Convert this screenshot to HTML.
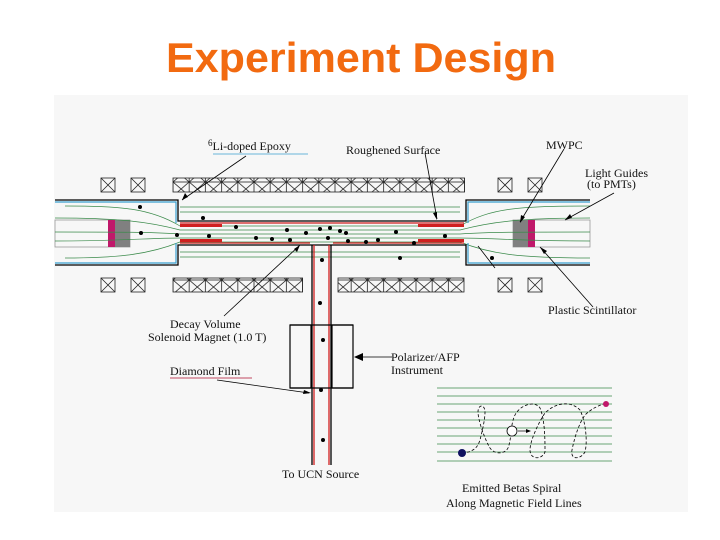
<!DOCTYPE html>
<html><head><meta charset="utf-8"><style>
html,body{margin:0;padding:0;background:#fff;width:720px;height:540px;overflow:hidden}
svg{display:block}
text{font-family:"Liberation Serif",serif;fill:#111}
</style></head><body>
<svg width="720" height="540" viewBox="0 0 720 540" xmlns="http://www.w3.org/2000/svg">
<defs>
<pattern id="xp" x="173" y="0" width="16.2" height="14" patternUnits="userSpaceOnUse">
<rect x="0" y="0" width="16.2" height="14" fill="none" stroke="#222" stroke-width="0.8"/>
<path d="M0 0L16.2 14M16.2 0L0 14" stroke="#222" stroke-width="0.8"/>
</pattern>
</defs>
<text x="166" y="72" textLength="390" lengthAdjust="spacingAndGlyphs" style="font-family:'Liberation Sans',sans-serif;font-weight:bold;font-size:42px;fill:#f26a10">Experiment Design</text>
<rect x="54" y="95" width="634" height="417" fill="#f7f7f7"/>
<!-- coils top -->
<g stroke="#222" stroke-width="0.8" fill="none">
<rect x="101" y="178" width="14" height="14"/><path d="M101 178l14 14M115 178l-14 14"/>
<rect x="131" y="178" width="14" height="14"/><path d="M131 178l14 14M145 178l-14 14"/>
<rect x="498" y="178" width="14" height="14"/><path d="M498 178l14 14M512 178l-14 14"/>
<rect x="528" y="178" width="14" height="14"/><path d="M528 178l14 14M542 178l-14 14"/>
<rect x="101" y="278" width="14" height="14"/><path d="M101 278l14 14M115 278l-14 14"/>
<rect x="131" y="278" width="14" height="14"/><path d="M131 278l14 14M145 278l-14 14"/>
<rect x="498" y="278" width="14" height="14"/><path d="M498 278l14 14M512 278l-14 14"/>
<rect x="528" y="278" width="14" height="14"/><path d="M528 278l14 14M542 278l-14 14"/>
</g>
<rect x="173" y="178" width="291.6" height="14" fill="url(#xp)" stroke="#222" stroke-width="0.8"/>
<rect x="173" y="278" width="129.6" height="14" fill="url(#xp)" stroke="#222" stroke-width="0.8"/>
<rect x="338" y="278" width="126" height="14" fill="url(#xp)" stroke="#222" stroke-width="0.8"/>
<!-- light guides -->
<g fill="none" stroke="#999" stroke-width="0.8">
<rect x="55" y="220" width="75" height="27"/>
<rect x="513" y="220" width="77" height="27"/>
</g>
<rect x="108" y="220" width="7" height="27" fill="#c0186a"/>
<rect x="115" y="220" width="15" height="27" fill="#808080"/>
<rect x="513" y="220" width="15" height="27" fill="#808080"/>
<rect x="528" y="220" width="7" height="27" fill="#c0186a"/>
<!-- field lines -->
<g fill="none" stroke="#3a8a4a" stroke-width="0.7">
<path d="M65 206C120 206 150 208 180 226L460 226C490 208 520 206 590 206"/>
<path d="M55 218C120 218 150 222 180 230L460 230C490 222 520 218 590 218"/>
<path d="M55 232C120 232 150 232 180 234L460 234C490 232 520 232 590 232"/>
<path d="M55 241C120 241 150 238 180 238L460 238C490 238 520 241 590 241"/>
<path d="M65 258C120 258 150 254 180 242L460 242C490 254 520 258 590 258"/>
<path d="M180 207L460 207M180 212L460 212M180 252L460 252M180 257L460 257"/>
</g>
<!-- outer housing -->
<g fill="none" stroke="#000" stroke-width="1.3">
<path d="M55 200H178V221H466V200H590"/>
<path d="M55 265H178V245H466V265H590"/>
</g>
<g fill="none" stroke="#3aa0d0" stroke-width="1.2">
<path d="M55 202H176V223"/><path d="M468 223V202H590"/>
<path d="M55 263H176V243"/><path d="M468 243V263H590"/>
</g>
<g stroke="#d02020" stroke-width="1.2">
<path d="M180 223H464M180 243H310M333 243H464"/>
</g>
<g fill="#d02020">
<rect x="180" y="224" width="42" height="3"/><rect x="418" y="224" width="46" height="3"/>
<rect x="180" y="239" width="42" height="3"/><rect x="418" y="239" width="46" height="3"/>
</g>
<!-- vertical tube -->
<g stroke-width="1.3" fill="none">
<path d="M312 245V465M331 245V465" stroke="#000"/>
<path d="M314 245V465M329 245V465" stroke="#d02020"/>
</g>
<rect x="290" y="325" width="21" height="63" fill="none" stroke="#000" stroke-width="1.2"/>
<rect x="332" y="325" width="21" height="63" fill="none" stroke="#000" stroke-width="1.2"/>
<path d="M290 325H353M290 388H353" stroke="#000" stroke-width="1.2"/>
<!-- dots -->
<g fill="#000">
<circle cx="141" cy="233" r="2"/><circle cx="140" cy="207" r="2"/><circle cx="203" cy="218" r="2"/>
<circle cx="177" cy="235" r="2"/><circle cx="209" cy="236" r="2"/><circle cx="236" cy="227" r="2"/>
<circle cx="256" cy="238" r="2"/><circle cx="272" cy="239" r="2"/><circle cx="287" cy="230" r="2"/>
<circle cx="290" cy="240" r="2"/><circle cx="306" cy="233" r="2"/><circle cx="320" cy="229" r="2"/>
<circle cx="330" cy="228" r="2"/><circle cx="340" cy="231" r="2"/><circle cx="346" cy="233" r="2"/>
<circle cx="328" cy="238" r="2"/><circle cx="348" cy="241" r="2"/><circle cx="366" cy="242" r="2"/>
<circle cx="378" cy="240" r="2"/><circle cx="396" cy="232" r="2"/><circle cx="414" cy="243" r="2"/>
<circle cx="445" cy="236" r="2"/><circle cx="400" cy="258" r="2"/>
<circle cx="322" cy="260" r="2"/><circle cx="320" cy="303" r="2"/><circle cx="323" cy="340" r="2"/>
<circle cx="321" cy="390" r="2"/><circle cx="323" cy="440" r="2"/><circle cx="492" cy="258" r="2"/>
</g>
<!-- leader arrows -->
<g stroke="#000" stroke-width="0.8" fill="none">
<path d="M246 156L182 200"/>
<path d="M425 153L437 219"/>
<path d="M564 149L520 222"/>
<path d="M614 193L565 220"/>
<path d="M593 307L540 247"/>
<path d="M224 316L300 245"/>
<path d="M217 380L309 393"/>
<path d="M392 357H356"/>
<path d="M478 246L495 268"/>
</g>
<g fill="#000">
<path d="M182 200l3-7 3 4z"/>
<path d="M437 220l-4-7 4-1z"/>
<path d="M520 223l1-8 4 2z"/>
<path d="M565 220l5-6 2 4z"/>
<path d="M540 247l7 4-3 3z"/>
<path d="M300 245l-3 7-3-3z"/>
<path d="M311 393l-8 1 1-4z"/>
<path d="M354 357l9-4v8z"/>
</g>
<!-- labels -->
<g font-size="12">
<text x="208" y="150"><tspan font-size="9" dy="-4">6</tspan><tspan dy="4">Li-doped Epoxy</tspan></text>
<path d="M213 154H308" stroke="#3aa0d0" stroke-width="0.8"/>
<text x="346" y="154">Roughened Surface</text>
<text x="546" y="149">MWPC</text>
<text x="585" y="177" font-size="12">Light Guides</text>
<text x="587" y="188" font-size="12">(to PMTs)</text>
<text x="548" y="314">Plastic Scintillator</text>
<text x="170" y="328">Decay Volume</text>
<text x="148" y="341">Solenoid Magnet (1.0 T)</text>
<text x="170" y="375">Diamond Film</text>
<path d="M170 378H252" stroke="#b01030" stroke-width="0.8"/>
<text x="391" y="361">Polarizer/AFP</text>
<text x="391" y="374">Instrument</text>
<text x="282" y="478">To UCN Source</text>
<text x="462" y="492">Emitted Betas Spiral</text>
<text x="446" y="507">Along Magnetic Field Lines</text>
</g>
<!-- inset -->
<g stroke="#3a8a4a" stroke-width="0.7">
<path d="M437 388H612M437 396H612M437 404H612M437 412H612M437 420H612M437 428H612M437 436H612M437 444H612M437 452H612M437 461H612"/>
</g>
<g fill="none" stroke="#000" stroke-width="0.8" stroke-dasharray="3,2">
<path d="M462 453C475 452 478 446 480 440C482 432 485 420 485 412C485 404 478 404 478 412C478 420 485 440 490 448C495 455 505 454 508 448C512 438 510 425 515 415C520 405 535 400 540 408C545 420 545 440 545 452C542 460 530 460 530 450C530 440 540 420 545 413C555 403 570 400 580 410C585 420 588 440 585 452C580 460 570 460 572 450C574 440 578 425 585 415C592 408 600 405 607 403"/>
</g>
<circle cx="462" cy="453" r="4" fill="#101060"/>
<circle cx="512" cy="431" r="5" fill="#fff" stroke="#000" stroke-width="0.8"/>
<path d="M518 431H530" stroke="#000" stroke-width="0.7"/>
<path d="M531 431l-5-2v4z" fill="#000"/>
<circle cx="606" cy="404" r="3" fill="#c0186a"/>
</svg>
</body></html>
